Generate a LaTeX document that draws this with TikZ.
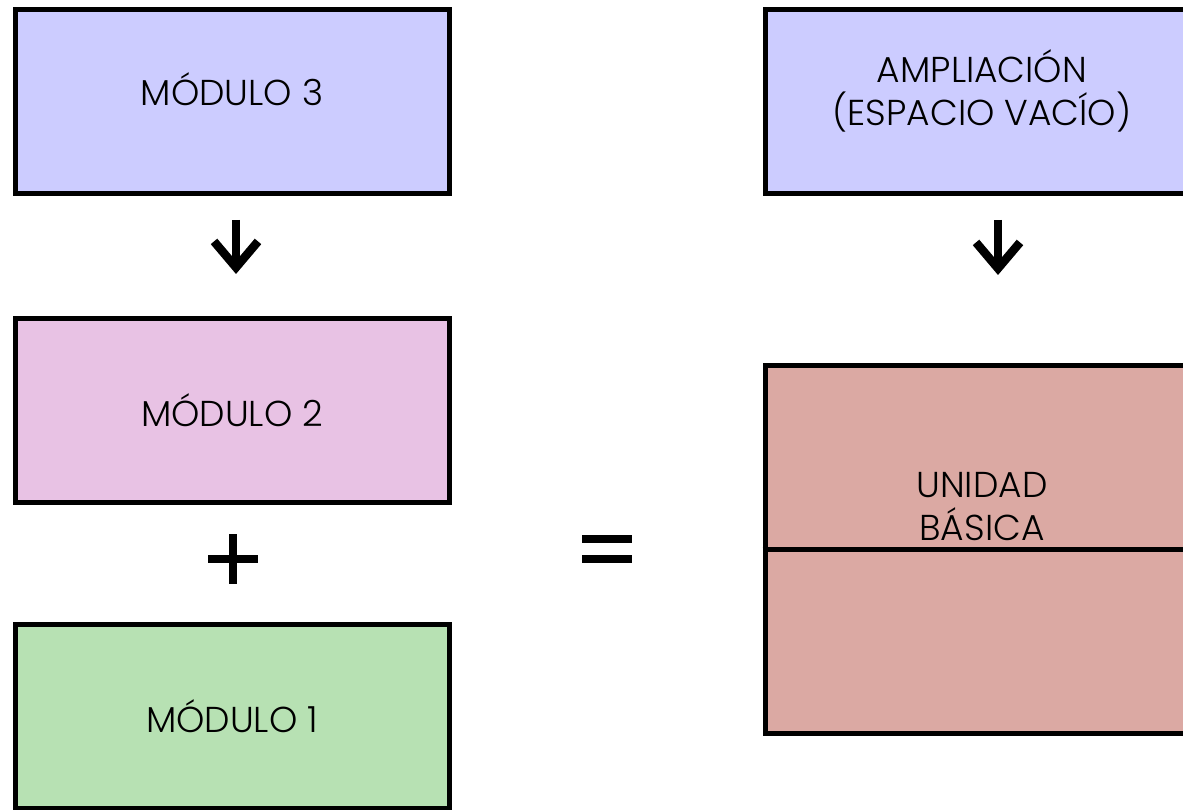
\documentclass[tikz,border=0pt]{standalone}
\usepackage{fontspec}
\setmainfont{Poppins Light}
\usepackage{tikz}
\usetikzlibrary{arrows.meta,calc}

\definecolor{azul}{RGB}{204,204,255}
\definecolor{rosa}{RGB}{232,194,228}
\definecolor{verde}{RGB}{183,225,179}
\definecolor{teja}{RGB}{219,169,163}

\tikzset{
  modulo/.style={draw, line width=5pt, minimum width=434pt, minimum height=184pt,
    inner sep=0pt, font=\fontsize{36}{43}\selectfont},
  rotulo/.style={inner sep=0pt, align=center, font=\fontsize{36}{43}\selectfont},
  flecha/.style={line width=8.5pt, -{Straight Barb[sharp,length=26pt,width=44pt]}},
  signo/.style={line width=8.5pt}
}

\begin{document}
\begin{tikzpicture}[x=1pt,y=-1pt]
   \clip (0,0) rectangle (1183,810);

   \node[modulo, fill=azul, label={[rotulo,yshift=13pt]center:MÓDULO 3}] (m3) at (232,102) {};
   \node[modulo, fill=rosa] (m2) at (232,410) {MÓDULO 2};
   \node[modulo, fill=verde] (m1) at (232,716) {MÓDULO 1};

   \node[modulo, fill=azul, label={[rotulo,yshift=11pt]center:AMPLIACIÓN\\(ESPACIO VACÍO)}] (am) at (982,102) {};
   \node[modulo, fill=teja, minimum height=368pt,
     label={[rotulo,yshift=42pt]center:UNIDAD\\BÁSICA}] (ub) at (982,549) {};
   \draw[line width=5pt] (ub.west) -- (ub.east);

   \draw[flecha, shorten <=23.5pt, shorten >=41.5pt] ([xshift=4pt]m3.south) -- ([xshift=4pt]m2.north);
   \draw[flecha, shorten <=23.5pt, shorten >=87.5pt] ([xshift=16pt]am.south) -- ([xshift=16pt]ub.north);

   \coordinate (mas) at ($(m2.south)!0.5!(m1.north)+(1,-4)$);
   \draw[signo] ($(mas)+(0,-25)$) -- ($(mas)+(0,25)$);
   \draw[signo] ($(mas)+(-25,0)$) -- ($(mas)+(25,0)$);

   \coordinate (igual) at ($(m2.east |- ub.center)!0.5!(ub.west)$);
   \draw[signo] ($(igual)+(-25,-10)$) -- ($(igual)+(25,-10)$);
   \draw[signo] ($(igual)+(-25,10)$) -- ($(igual)+(25,10)$);
\end{tikzpicture}
\end{document}
